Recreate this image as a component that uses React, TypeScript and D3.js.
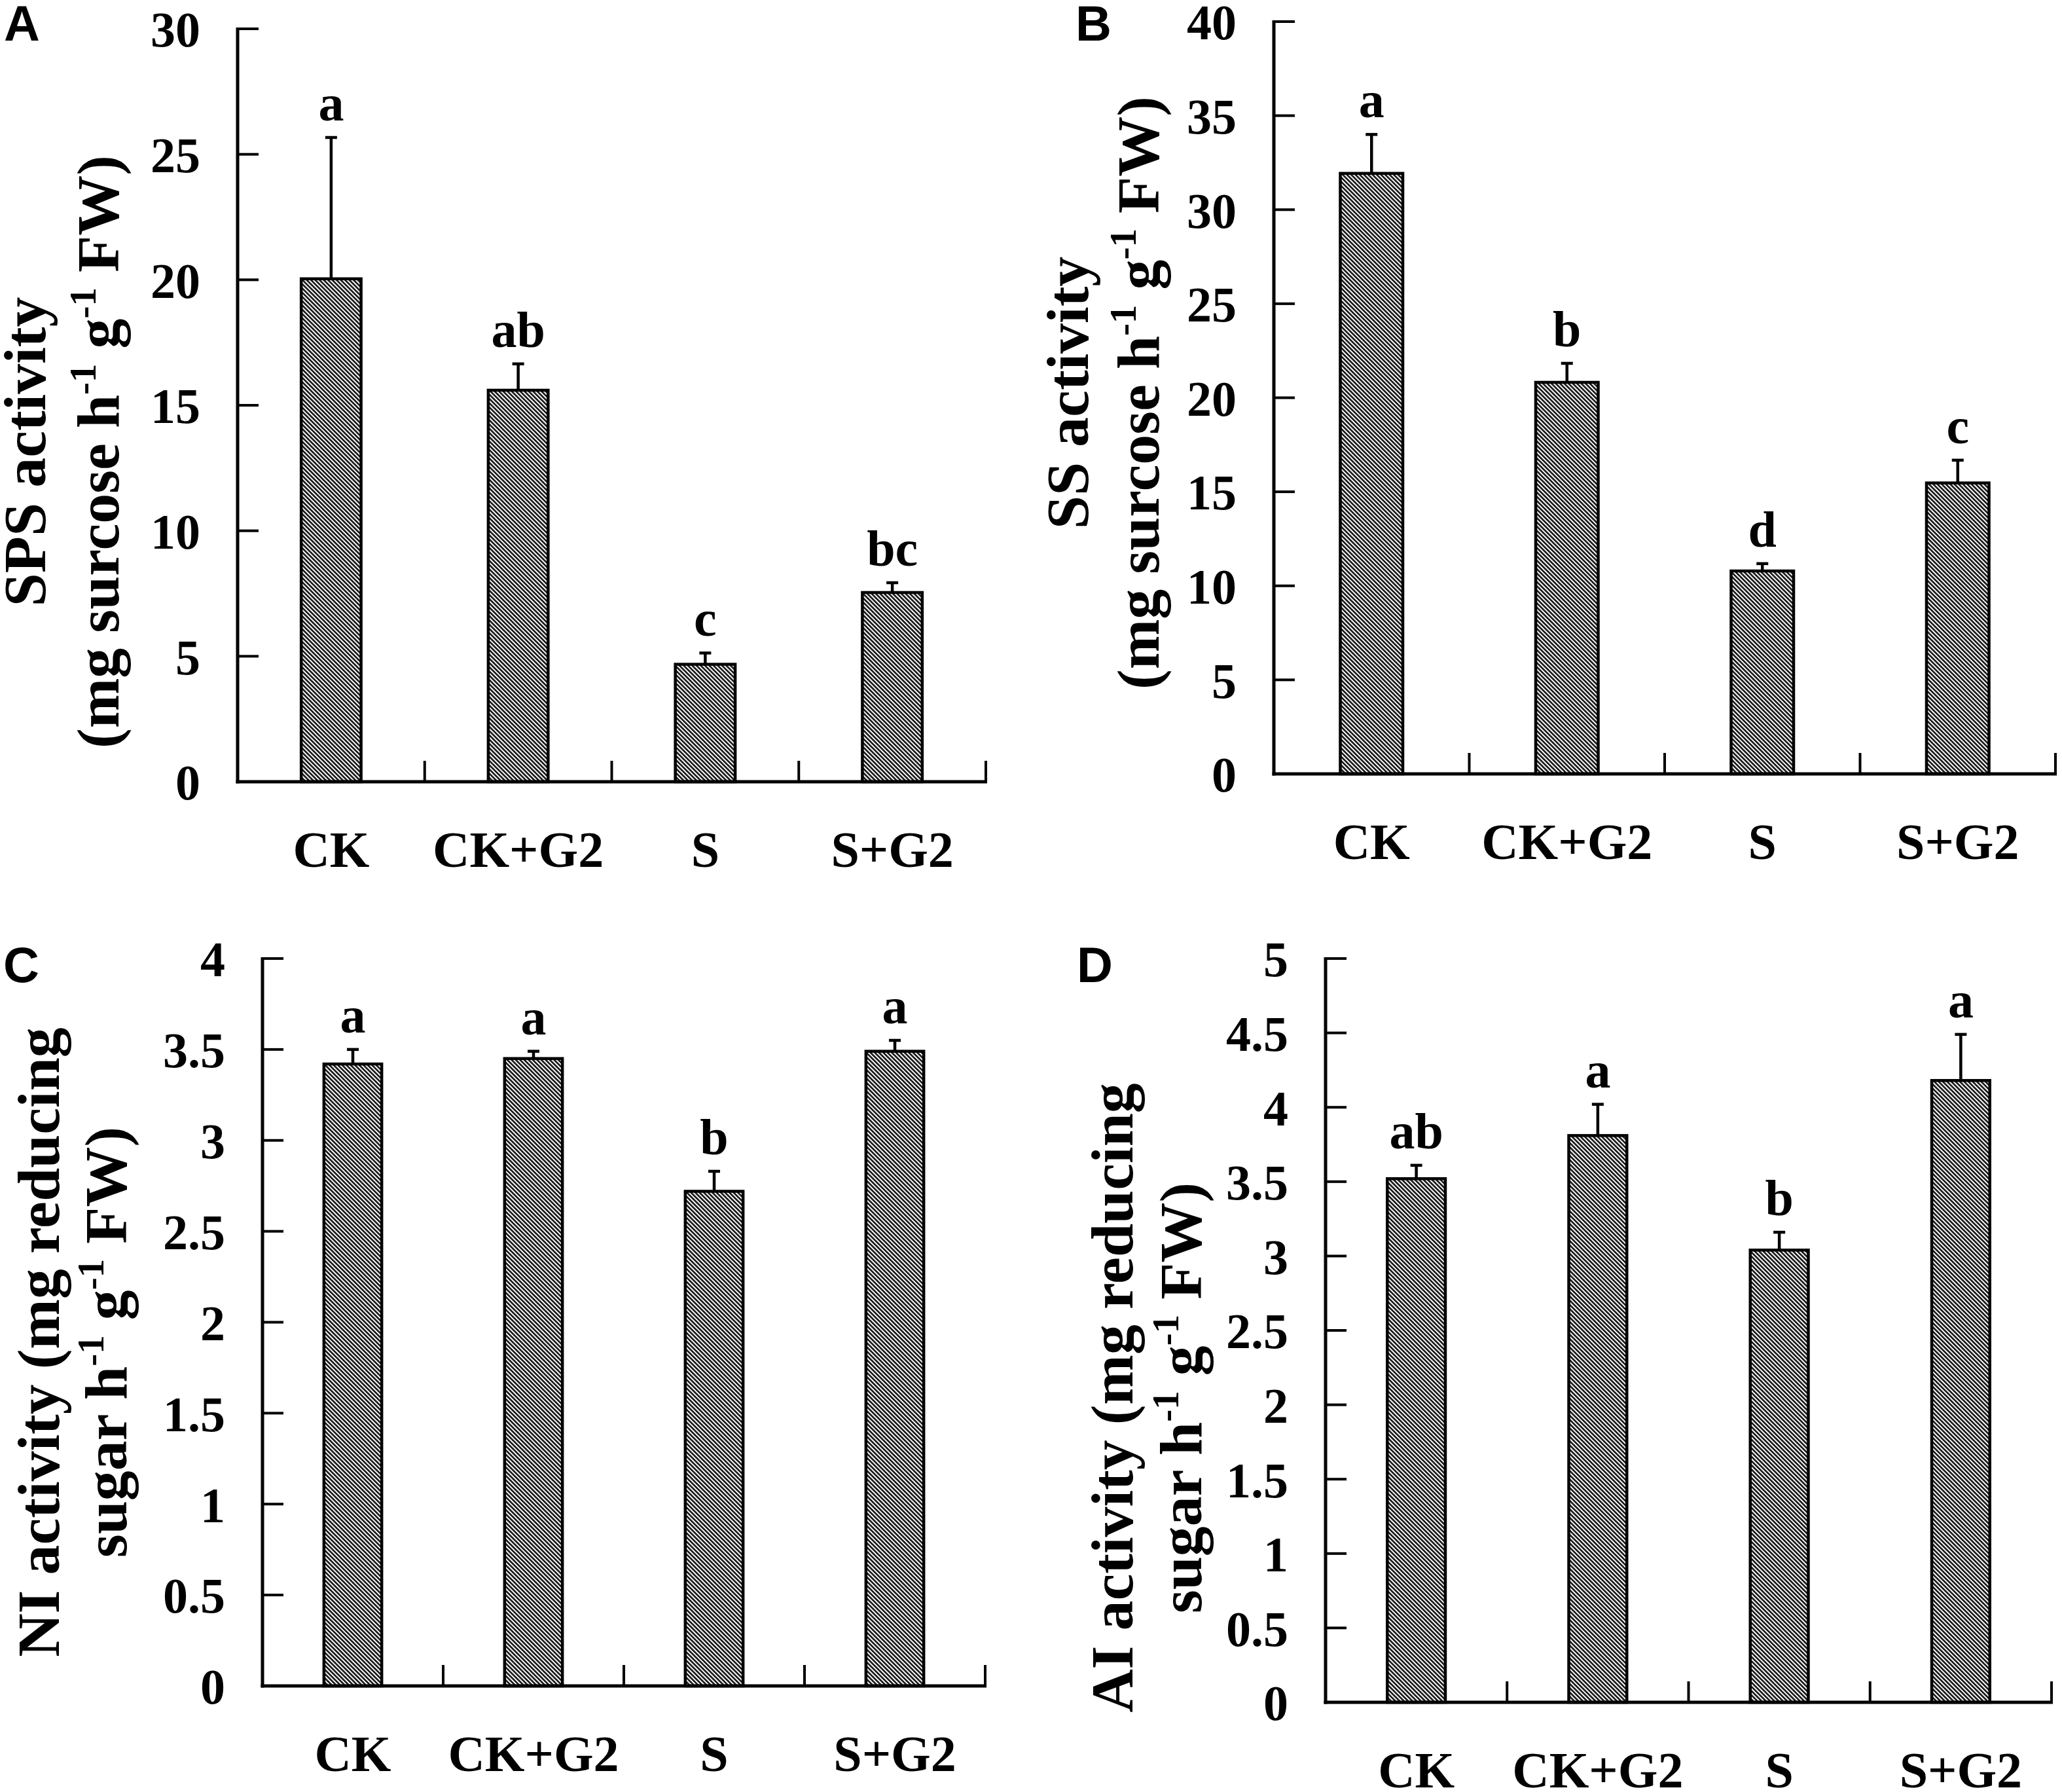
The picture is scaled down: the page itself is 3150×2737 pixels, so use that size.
import React from "react";
import * as d3 from "d3";

// ---------- data ----------
const categories = ["CK", "CK+G2", "S", "S+G2"];

const spsMean = [20.04, 15.6, 4.68, 7.54];
const spsErr = [5.63, 1.05, 0.45, 0.39];
const spsLetters = ["a", "ab", "c", "bc"];
const spsTicks = [0, 5, 10, 15, 20, 25, 30];

const ssMean = [31.93, 20.82, 10.79, 15.47];
const ssErr = [2.07, 1.01, 0.39, 1.21];
const ssLetters = ["a", "b", "d", "c"];
const ssTicks = [0, 5, 10, 15, 20, 25, 30, 35, 40];

const niMean = [3.42, 3.45, 2.72, 3.49];
const niErr = [0.08, 0.04, 0.11, 0.06];
const niLetters = ["a", "a", "b", "a"];
const niTicks = [0, 0.5, 1, 1.5, 2, 2.5, 3, 3.5, 4];

const aiMean = [3.52, 3.81, 3.04, 4.18];
const aiErr = [0.09, 0.21, 0.12, 0.31];
const aiLetters = ["ab", "a", "b", "a"];
const aiTicks = [0, 0.5, 1, 1.5, 2, 2.5, 3, 3.5, 4, 4.5, 5];

type Seg = { t: string; sup?: boolean };
const spsTitle: Seg[][] = [
  [{ t: "SPS activity" }],
  [{ t: "(mg surcose h" }, { t: "-1", sup: true }, { t: " g" }, { t: "-1", sup: true }, { t: " FW)" }],
];
const ssTitle: Seg[][] = [
  [{ t: "SS activity" }],
  [{ t: "(mg surcose h" }, { t: "-1", sup: true }, { t: " g" }, { t: "-1", sup: true }, { t: " FW)" }],
];
const niTitle: Seg[][] = [
  [{ t: "NI activity (mg reducing" }],
  [{ t: "sugar h" }, { t: "-1", sup: true }, { t: " g" }, { t: "-1", sup: true }, { t: " FW)" }],
];
const aiTitle: Seg[][] = [
  [{ t: "AI activity (mg reducing" }],
  [{ t: "sugar h" }, { t: "-1", sup: true }, { t: " g" }, { t: "-1", sup: true }, { t: " FW)" }],
];

// ---------- layout ----------
const W = 3150;
const H = 2737;
const SERIF = "'Liberation Serif', 'Times New Roman', serif";
const SANS = "'Liberation Sans', Arial, sans-serif";

type Layout = {
  letter: string;
  letterX: number;
  letterY: number;
  x0: number;
  x1: number;
  yTop: number;
  yBottom: number;
  titleCenterY: number;
  titleBaselines: number[];
};

const layoutA: Layout = { letter: "A", letterX: 6, letterY: 62, x0: 363, x1: 1506, yTop: 44, yBottom: 1194, titleCenterY: 690, titleBaselines: [69, 181] };
const layoutB: Layout = { letter: "B", letterX: 1643, letterY: 62, x0: 1946, x1: 3140, yTop: 33, yBottom: 1182, titleCenterY: 600, titleBaselines: [1662, 1770] };
const layoutC: Layout = { letter: "C", letterX: 5, letterY: 1500, x0: 401, x1: 1505, yTop: 1464, yBottom: 2575, titleCenterY: 2050, titleBaselines: [90, 193] };
const layoutD: Layout = { letter: "D", letterX: 1645, letterY: 1500, x0: 2025, x1: 3134, yTop: 1464, yBottom: 2600, titleCenterY: 2135, titleBaselines: [1730, 1835] };

const TICK_FS = 76;
const CAT_FS = 78;
const LET_FS = 78;
const TITLE_FS = 92;
const TICK_LEN = 32;

function TitleLine({ segs, x, y }: { segs: Seg[]; x: number; y: number }) {
  const supFs = TITLE_FS * 0.62;
  const shift = TITLE_FS * 0.38;
  const children: React.ReactNode[] = [];
  let raised = false;
  segs.forEach((s, i) => {
    if (s.sup) {
      children.push(
        <tspan key={i} fontSize={supFs} dy={-shift}>
          {s.t}
        </tspan>
      );
      raised = true;
    } else {
      children.push(
        <tspan key={i} dy={raised ? shift : 0}>
          {s.t}
        </tspan>
      );
      raised = false;
    }
  });
  return (
    <text
      transform={`translate(${x},${y}) rotate(-90)`}
      textAnchor="middle"
      fontFamily={SERIF}
      fontWeight="bold"
      fontSize={TITLE_FS}
      fill="#000"
      style={{ whiteSpace: "pre" }}
    >
      {children}
    </text>
  );
}

function Panel({
  L,
  means,
  errs,
  letters,
  ticks,
  title,
}: {
  L: Layout;
  means: number[];
  errs: number[];
  letters: string[];
  ticks: number[];
  title: Seg[][];
}) {
  const x = d3.scaleBand<string>().domain(categories).range([L.x0, L.x1]).paddingInner(0).paddingOuter(0);
  const y = d3.scaleLinear().domain([ticks[0], ticks[ticks.length - 1]]).range([L.yBottom, L.yTop]);
  const bw = x.bandwidth() * 0.32;
  const boundaries = categories.map((c) => (x(c) as number) + x.bandwidth());

  return (
    <g>
      <text x={L.letterX} y={L.letterY} fontFamily={SANS} fontWeight="bold" fontSize={76} fill="#000">
        {L.letter}
      </text>
      {title.map((segs, i) => (
        <TitleLine key={i} segs={segs} x={L.titleBaselines[i]} y={L.titleCenterY} />
      ))}
      {/* bars */}
      {categories.map((c, i) => {
        const cx = (x(c) as number) + x.bandwidth() / 2;
        const top = y(means[i]);
        const et = y(means[i] + errs[i]);
        return (
          <g key={c}>
            <rect
              x={cx - bw / 2}
              y={top}
              width={bw}
              height={y(0) - top}
              fill="url(#hatch)"
              stroke="#000"
              strokeWidth={4.5}
            />
            <line x1={cx} x2={cx} y1={top} y2={et} stroke="#000" strokeWidth={4.5} />
            <line x1={cx - 9} x2={cx + 9} y1={et} y2={et} stroke="#000" strokeWidth={4.5} />
            <text
              x={cx}
              y={et - 26}
              textAnchor="middle"
              fontFamily={SERIF}
              fontWeight="bold"
              fontSize={LET_FS}
              fill="#000"
            >
              {letters[i]}
            </text>
            <text
              x={cx}
              y={L.yBottom + 130}
              textAnchor="middle"
              fontFamily={SERIF}
              fontWeight="bold"
              fontSize={CAT_FS}
              fill="#000"
            >
              {c}
            </text>
          </g>
        );
      })}
      {/* y axis */}
      <line x1={L.x0} x2={L.x0} y1={y(ticks[ticks.length - 1]) - 2} y2={y(0) + 2.5} stroke="#000" strokeWidth={5} />
      {ticks.map((t) => (
        <g key={t}>
          <line x1={L.x0} x2={L.x0 + TICK_LEN} y1={y(t)} y2={y(t)} stroke="#000" strokeWidth={4} />
          <text
            x={L.x0 - 57}
            y={y(t)}
            dy="0.36em"
            textAnchor="end"
            fontFamily={SERIF}
            fontWeight="bold"
            fontSize={TICK_FS}
            fill="#000"
          >
            {String(t)}
          </text>
        </g>
      ))}
      {/* x axis */}
      <line x1={L.x0 - 2.5} x2={L.x1 + 2} y1={y(0)} y2={y(0)} stroke="#000" strokeWidth={5} />
      {boundaries.map((bx, i) => (
        <line key={i} x1={bx} x2={bx} y1={y(0)} y2={y(0) - TICK_LEN} stroke="#000" strokeWidth={4} />
      ))}
    </g>
  );
}

export default function App() {
  return (
    <svg
      width={W}
      height={H}
      viewBox={`0 0 ${W} ${H}`}
      style={{ position: "absolute", left: 0, top: 0, background: "#fff" }}
      xmlns="http://www.w3.org/2000/svg"
    >
      <defs>
        <pattern id="hatch" patternUnits="userSpaceOnUse" width={4.6} height={10} patternTransform="rotate(-45)">
          <rect width={4.6} height={10} fill="#fff" />
          <rect width={2.7} height={10} fill="#1a1a1a" />
        </pattern>
      </defs>
      <rect width={W} height={H} fill="#fff" />
      <Panel L={layoutA} means={spsMean} errs={spsErr} letters={spsLetters} ticks={spsTicks} title={spsTitle} />
      <Panel L={layoutB} means={ssMean} errs={ssErr} letters={ssLetters} ticks={ssTicks} title={ssTitle} />
      <Panel L={layoutC} means={niMean} errs={niErr} letters={niLetters} ticks={niTicks} title={niTitle} />
      <Panel L={layoutD} means={aiMean} errs={aiErr} letters={aiLetters} ticks={aiTicks} title={aiTitle} />
    </svg>
  );
}
